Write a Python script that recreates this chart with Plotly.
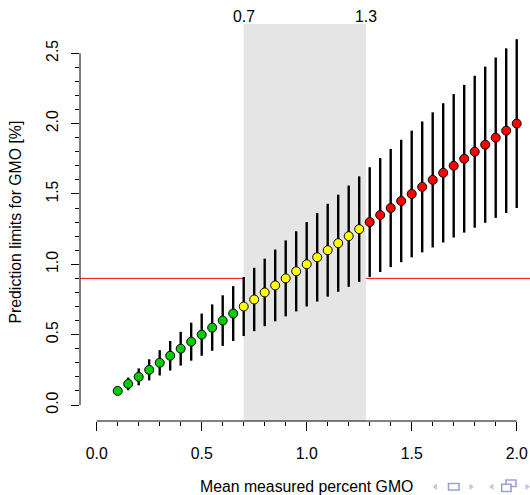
import plotly.graph_objects as go

# ---- data ----
mean_gmo = [0.10, 0.15, 0.20, 0.25, 0.30, 0.35, 0.40, 0.45, 0.50, 0.55,
            0.60, 0.65, 0.70, 0.75, 0.80, 0.85, 0.90, 0.95, 1.00, 1.05,
            1.10, 1.15, 1.20, 1.25, 1.30, 1.35, 1.40, 1.45, 1.50, 1.55,
            1.60, 1.65, 1.70, 1.75, 1.80, 1.85, 1.90, 1.95, 2.00]
lower_limit = [0.070, 0.105, 0.140, 0.175, 0.210, 0.245, 0.280, 0.315, 0.350, 0.385,
               0.420, 0.455, 0.490, 0.525, 0.560, 0.595, 0.630, 0.665, 0.700, 0.735,
               0.770, 0.805, 0.840, 0.875, 0.910, 0.945, 0.980, 1.015, 1.050, 1.085,
               1.120, 1.155, 1.190, 1.225, 1.260, 1.295, 1.330, 1.365, 1.400]
upper_limit = [0.130, 0.195, 0.260, 0.325, 0.390, 0.455, 0.520, 0.585, 0.650, 0.715,
               0.780, 0.845, 0.910, 0.975, 1.040, 1.105, 1.170, 1.235, 1.300, 1.365,
               1.430, 1.495, 1.560, 1.625, 1.690, 1.755, 1.820, 1.885, 1.950, 2.015,
               2.080, 2.145, 2.210, 2.275, 2.340, 2.405, 2.470, 2.535, 2.600]
threshold = 0.9
band_limits = [0.70, 1.282]
band_labels = ["0.7", "1.3"]
x_ticks = [0.0, 0.5, 1.0, 1.5, 2.0]
x_ticklabels = ["0.0", "0.5", "1.0", "1.5", "2.0"]
y_ticks = [0.0, 0.5, 1.0, 1.5, 2.0, 2.5]
y_ticklabels = ["0.0", "0.5", "1.0", "1.5", "2.0", "2.5"]
x_minor = [0.1, 0.2, 0.3, 0.4, 0.6, 0.7, 0.8, 0.9, 1.1, 1.2, 1.3, 1.4, 1.6, 1.7, 1.8, 1.9]
y_minor = [0.1, 0.2, 0.3, 0.4, 0.6, 0.7, 0.8, 0.9, 1.1, 1.2, 1.3, 1.4,
           1.6, 1.7, 1.8, 1.9, 2.1, 2.2, 2.3, 2.4]

# ---- styling ----
W, H = 530, 495
ML, MR, MT, MB = 80, 0, 24, 74
PW, PH = W - ML - MR, H - MT - MB
FONT = "Liberation Sans, Arial, sans-serif"
FS = 15.8
X_RANGE = [-0.0795, 2.0633]
Y_RANGE = [-0.1137, 2.7079]

def px(xp):
    return (xp - ML) / PW

def py(yp):
    return (H - MB - yp) / PH

colors = []
for lo, up in zip(lower_limit, upper_limit):
    if up < threshold:
        colors.append("#00CD00")
    elif lo > threshold:
        colors.append("#FF0000")
    else:
        colors.append("#FFFF00")

fig = go.Figure()
fig.add_trace(go.Scatter(
    x=mean_gmo, y=mean_gmo, mode="markers",
    marker=dict(size=9, color=colors, line=dict(color="black", width=1)),
    error_y=dict(type="data", symmetric=False,
                 array=[u - m for u, m in zip(upper_limit, mean_gmo)],
                 arrayminus=[m - l for m, l in zip(mean_gmo, lower_limit)],
                 color="black", thickness=2.4, width=0),
    showlegend=False, hoverinfo="skip"))

shapes = []
# grey band
shapes.append(dict(type="rect", xref="x", yref="paper", x0=band_limits[0], x1=band_limits[1],
                   y0=0, y1=1, fillcolor="#E5E5E5", line=dict(width=0), layer="below"))
# threshold line outside the band
shapes.append(dict(type="line", xref="x", yref="y", x0=X_RANGE[0], x1=band_limits[0],
                   y0=threshold, y1=threshold, line=dict(color="red", width=1), layer="below"))
shapes.append(dict(type="line", xref="x", yref="y", x0=band_limits[1], x1=X_RANGE[1],
                   y0=threshold, y1=threshold, line=dict(color="red", width=1), layer="below"))
# axis lines spanning tick range only (R style)
shapes.append(dict(type="line", xref="x", yref="paper", x0=x_ticks[0], x1=x_ticks[-1], y0=0, y1=0,
                   line=dict(color="black", width=1)))
shapes.append(dict(type="line", xref="paper", yref="y", x0=0, x1=0, y0=y_ticks[0], y1=y_ticks[-1],
                   line=dict(color="black", width=1)))

# beamer navigation symbols (decoration)
tri_c = "#C4C4EC"
box_c = "#9E9EDC"
def tri_left(x0, x1, y0, y1):
    ym = (y0 + y1) / 2
    return dict(type="path", xref="paper", yref="paper",
                path=f"M {px(x1)} {py(y0)} L {px(x0)} {py(ym)} L {px(x1)} {py(y1)} Z",
                fillcolor=tri_c, line=dict(width=0))
def tri_right(x0, x1, y0, y1):
    ym = (y0 + y1) / 2
    return dict(type="path", xref="paper", yref="paper",
                path=f"M {px(x0)} {py(y0)} L {px(x1)} {py(ym)} L {px(x0)} {py(y1)} Z",
                fillcolor=tri_c, line=dict(width=0))
def box(x0, x1, y0, y1, fill="white"):
    return dict(type="rect", xref="paper", yref="paper", x0=px(x0), x1=px(x1), y0=py(y1), y1=py(y0),
                fillcolor=fill, line=dict(color=box_c, width=1.6))
shapes += [tri_left(432.5, 437, 483.5, 490), box(448.5, 459, 483.5, 490),
           tri_right(469.5, 474, 483.5, 490), tri_left(489, 493.5, 483.5, 490),
           box(506, 516, 480, 486.5), box(501.7, 511, 484.3, 491.5),
           tri_right(525.5, 530, 483.5, 490)]

annotations = []
for v, t in zip(band_limits, band_labels):
    annotations.append(dict(x=v, xref="x", y=1, yref="paper", text=t, showarrow=False,
                            yanchor="middle", yshift=8, font=dict(family=FONT, size=FS, color="black")))
annotations.append(dict(x=px(306.5), xref="paper", y=py(487), yref="paper",
                        text="Mean measured percent GMO", showarrow=False,
                        xanchor="center", yanchor="middle", font=dict(family=FONT, size=FS, color="black")))
annotations.append(dict(x=px(15), xref="paper", y=0.5, yref="paper",
                        text="Prediction limits for GMO [%]", showarrow=False, textangle=-90,
                        xanchor="center", yanchor="middle", font=dict(family=FONT, size=FS, color="black")))

fig.update_layout(
    width=W, height=H, margin=dict(l=ML, r=MR, t=MT, b=MB, autoexpand=False),
    paper_bgcolor="white", plot_bgcolor="white",
    font=dict(family=FONT, size=FS, color="black"),
    shapes=shapes, annotations=annotations,
    xaxis=dict(range=X_RANGE, showgrid=False, zeroline=False, showline=False,
               tickmode="array", tickvals=x_ticks, ticktext=x_ticklabels,
               ticks="outside", ticklen=9, tickwidth=1, tickcolor="black", ticklabelstandoff=9,
               minor=dict(tickmode="array", tickvals=x_minor, ticks="outside", ticklen=4,
                          tickwidth=1, tickcolor="black", showgrid=False),
               tickfont=dict(family=FONT, size=FS, color="black")),
    yaxis=dict(range=Y_RANGE, showgrid=False, zeroline=False, showline=False,
               tickmode="array", tickvals=y_ticks, ticktext=y_ticklabels, tickangle=-90,
               ticks="outside", ticklen=8, tickwidth=1, tickcolor="black", ticklabelstandoff=7,
               minor=dict(tickmode="array", tickvals=y_minor, ticks="outside", ticklen=4,
                          tickwidth=1, tickcolor="black", showgrid=False),
               tickfont=dict(family=FONT, size=FS, color="black")),
)

fig.write_html("out.html")
